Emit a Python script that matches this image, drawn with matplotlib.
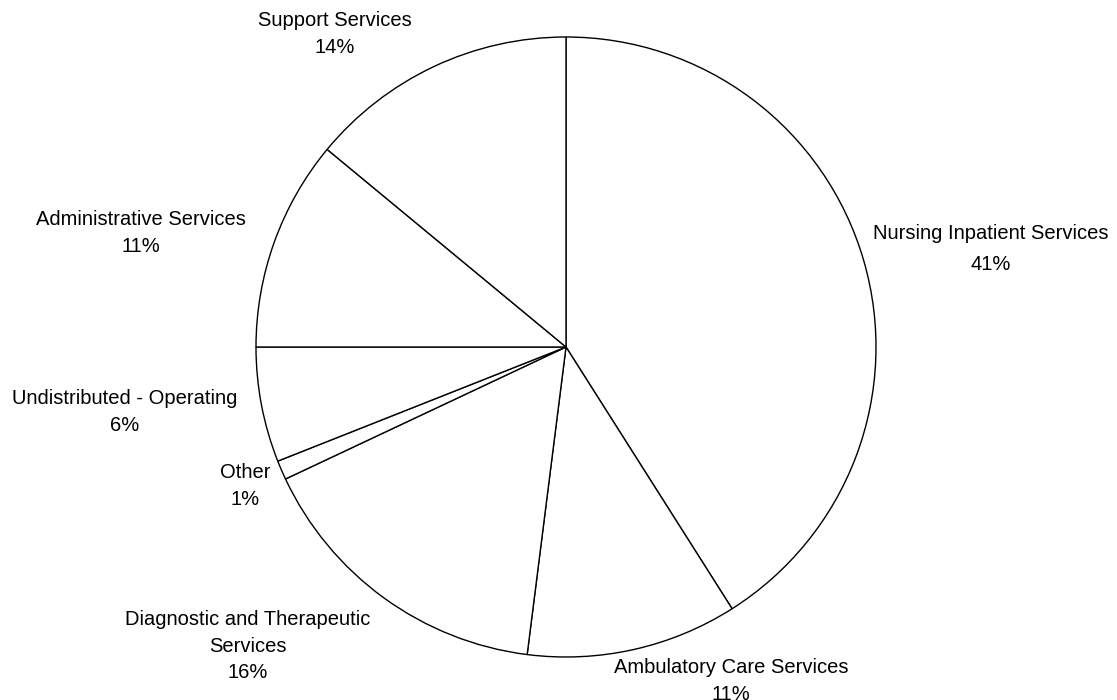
import matplotlib.pyplot as plt

categories = ['Nursing Inpatient Services', 'Ambulatory Care Services',
              'Diagnostic and Therapeutic\nServices', 'Other',
              'Undistributed - Operating', 'Administrative Services',
              'Support Services']
shares = [41, 11, 16, 1, 6, 11, 14]

# label anchor points in pixels (x, y from top-left)
label_px = [(991, 249), (731, 681), (248, 646), (245, 486),
            (125, 412), (141, 233), (335, 34)]

W, H = 1117, 700
cx, cy, r = 566, 347, 310

fig = plt.figure(figsize=(W / 100, H / 100), dpi=100)
ax = fig.add_axes([0, 0, 1, 1])

ax.pie(shares, startangle=90, counterclock=False, radius=1,
       colors=['white'] * len(shares),
       wedgeprops=dict(edgecolor='black', linewidth=1.0))

# pie() resets the limits, so set them afterwards
ax.set_xlim(-cx / r, (W - cx) / r)
ax.set_ylim((cy - H) / r, cy / r)
ax.set_aspect('equal')
ax.axis('off')

for name, val, (px, py) in zip(categories, shares, label_px):
    ls = 1.85 if name.startswith('Nursing') else 1.5
    ax.text((px - cx) / r, (cy - py) / r, f'{name}\n{val}%',
            ha='center', va='center', fontsize=14.5,
            family='Liberation Sans', linespacing=ls)

fig.savefig('out.png', dpi=100)
